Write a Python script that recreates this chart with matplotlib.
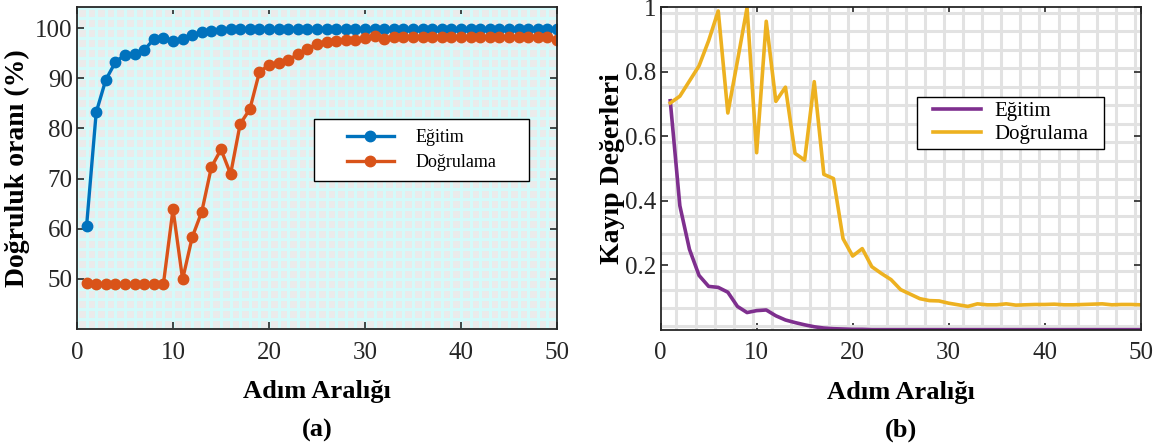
import matplotlib.pyplot as plt
import numpy as np
from matplotlib.ticker import MultipleLocator, FixedLocator
from matplotlib.patches import Rectangle

plt.rcParams['font.family'] = ['Liberation Serif', 'DejaVu Serif']

# steps
steps = list(range(1, 51))

# (a) accuracy (%)
acc_train = [60.6, 83.2, 89.7, 93.2, 94.7, 94.8, 95.6, 97.8, 98.0, 97.5,
             97.8, 98.6, 99.2, 99.5, 99.7, 99.9, 99.9, 99.9, 99.9, 99.9,
             99.9, 99.9, 99.9, 99.9, 99.9, 99.9, 99.9, 99.9, 99.9, 99.9,
             99.9, 99.9, 99.9, 99.9, 99.9, 99.9, 99.9, 99.9, 99.9, 99.9,
             99.9, 99.9, 99.9, 99.9, 99.9, 99.9, 99.9, 99.9, 99.9, 99.9]
acc_val = [49.1, 49.0, 49.0, 49.0, 49.0, 49.0, 49.0, 49.0, 49.0, 63.9,
           49.9, 58.3, 63.4, 72.3, 75.8, 70.9, 80.9, 83.8, 91.2, 92.7,
           93.0, 93.6, 94.8, 95.9, 96.8, 97.2, 97.5, 97.6, 97.6, 98.1,
           98.4, 97.9, 98.3, 98.3, 98.3, 98.3, 98.3, 98.3, 98.3, 98.3,
           98.3, 98.3, 98.3, 98.3, 98.3, 98.3, 98.3, 98.3, 98.3, 97.6]

# (b) loss
loss_train = [0.71, 0.385, 0.25, 0.169, 0.135, 0.132, 0.117, 0.073, 0.054, 0.060,
              0.062, 0.044, 0.031, 0.023, 0.016, 0.010, 0.006, 0.004, 0.003, 0.002,
              0.002, 0.001, 0.001, 0.001, 0.001, 0.001, 0.001, 0.001, 0.001, 0.001,
              0.001, 0.001, 0.001, 0.001, 0.001, 0.001, 0.001, 0.001, 0.001, 0.001,
              0.001, 0.001, 0.001, 0.001, 0.001, 0.001, 0.001, 0.001, 0.001, 0.001]
loss_val = [0.703, 0.724, 0.771, 0.818, 0.896, 0.988, 0.672, 0.833, 0.998, 0.549,
            0.956, 0.708, 0.752, 0.547, 0.526, 0.769, 0.482, 0.469, 0.283, 0.229,
            0.252, 0.196, 0.175, 0.156, 0.125, 0.111, 0.097, 0.091, 0.090, 0.083,
            0.078, 0.073, 0.081, 0.078, 0.078, 0.081, 0.077, 0.078, 0.079, 0.079,
            0.080, 0.078, 0.078, 0.079, 0.080, 0.081, 0.078, 0.079, 0.079, 0.078]

labels = ['Eğitim', 'Doğrulama']

fig = plt.figure(figsize=(11.58, 4.46), dpi=100)
ax1 = fig.add_axes([0.0665, 0.2623, 0.4145, 0.722])
ax2 = fig.add_axes([0.5705, 0.2601, 0.4145, 0.724])


def style_axes(ax):
    for s in ax.spines.values():
        s.set_color('#262626')
        s.set_linewidth(1.3)
    ax.tick_params(which='major', direction='in', length=5, width=1.2,
                   top=True, right=True, labelsize=18, colors='#262626',
                   labelcolor='#262626')
    ax.tick_params(which='minor', length=0)
    ax.tick_params(axis='x', pad=9)
    ax.tick_params(axis='y', pad=3)
    ax.set_axisbelow(True)


def boxed_legend(ax, box, **kw):
    # legend frame drawn as a patch so the entries sit centred in it
    x0, y0, w, h = box
    ax.add_patch(Rectangle((x0, y0), w, h, transform=ax.transAxes,
                           facecolor='white', edgecolor='black', lw=1.0,
                           zorder=4))
    leg = ax.legend(loc='center', bbox_to_anchor=(x0 + w / 2, y0 + h / 2),
                    frameon=False, borderaxespad=0, borderpad=0, **kw)
    leg.set_zorder(5)
    return leg


# (a)
ax1.set_facecolor('#ebebeb')
ax1.plot(steps, acc_train, '-o', color='#0072BD', lw=2.4, ms=7.5, label=labels[0])
ax1.plot(steps, acc_val, '-o', color='#D95319', lw=2.4, ms=7.5, label=labels[1])
ax1.set_xlim(0, 50)
ax1.set_ylim(40, 104.2)
ax1.set_xticks([0, 10, 20, 30, 40, 50])
ax1.set_yticks([50, 60, 70, 80, 90, 100])
ax1.xaxis.set_minor_locator(MultipleLocator(1))
ax1.yaxis.set_minor_locator(MultipleLocator(2))
ax1.grid(which='both', color='#d4fafa', lw=2.2)
style_axes(ax1)
ax1.set_xlabel('Adım Aralığı', fontsize=19, fontweight='bold', labelpad=12)
ax1.set_ylabel('Doğruluk oranı (%)', fontsize=20, fontweight='bold', labelpad=4)
boxed_legend(ax1, (0.494, 0.4596, 0.448, 0.1926), fontsize=13,
             handlelength=2.6, handletextpad=1.2, labelspacing=0.45)

# (b)
ax2.set_facecolor('white')
ax2.plot(steps, loss_train, '-', color='#7E2F8E', lw=2.6, label=labels[0])
ax2.plot(steps, loss_val, '-', color='#EDB120', lw=2.6, label=labels[1])
ax2.set_xlim(0, 50)
ax2.set_ylim(0, 1)
ax2.set_xticks([0, 10, 20, 30, 40, 50])
ax2.set_yticks([0.2, 0.4, 0.6, 0.8, 1.0])
ax2.set_yticklabels(['0.2', '0.4', '0.6', '0.8', '1'])
ax2.xaxis.set_minor_locator(FixedLocator(np.arange(1.65, 50, 1.99)))
ax2.yaxis.set_minor_locator(FixedLocator(np.arange(0.011, 1.0, 0.0571)))
ax2.grid(which='minor', color='#e2e2e2', lw=2.2)
style_axes(ax2)
ax2.set_xlabel('Adım Aralığı', fontsize=19, fontweight='bold', labelpad=12)
ax2.set_ylabel('Kayıp Değerleri', fontsize=20, fontweight='bold', labelpad=0)
boxed_legend(ax2, (0.534, 0.5604, 0.3906, 0.161), fontsize=15,
             handlelength=2.3, handletextpad=0.6, labelspacing=0.15)

fig.text(0.0665 + 0.4145 / 2, 0.035, '(a)', ha='center', va='center',
         fontsize=19, fontweight='bold')
fig.text(0.5705 + 0.4145 / 2, 0.035, '(b)', ha='center', va='center',
         fontsize=19, fontweight='bold')

fig.savefig('out.png', dpi=100)
